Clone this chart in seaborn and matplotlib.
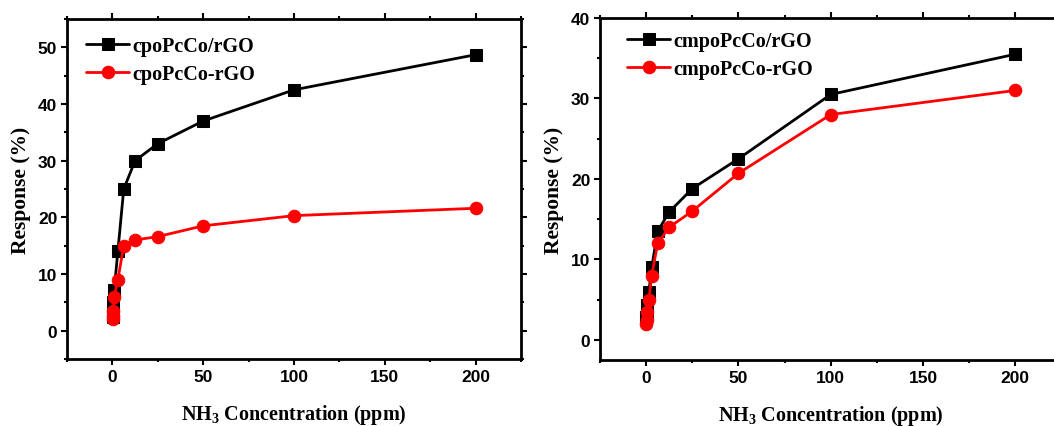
import matplotlib
matplotlib.use("Agg")
import matplotlib.pyplot as plt
import seaborn as sns
import numpy as np
from matplotlib.ticker import MultipleLocator

# ---- data ----
conc = [0.1, 0.25, 0.5, 1, 3, 6.25, 12.5, 25, 50, 100, 200]
conc_r = [0.1, 0.25, 0.5, 1.5, 3, 6.25, 12.5, 25, 50, 100, 200]

left_black_label = "cpoPcCo/rGO"
left_red_label = "cpoPcCo-rGO"
left_black = [2.5, 3.5, 5.0, 7.2, 14.0, 25.0, 30.0, 33.0, 37.0, 42.5, 48.7]
left_red_x = [0.1, 0.25, 0.5, 1.0, 3, 6.25, 12.5, 25, 50, 100, 200]
left_red_y = [2.0, 2.6, 3.5, 6.0, 9.0, 15.0, 16.0, 16.6, 18.5, 20.3, 21.6]

right_black_label = "cmpoPcCo/rGO"
right_red_label = "cmpoPcCo-rGO"
right_black = [2.8, 3.5, 4.3, 6.0, 9.0, 13.5, 15.9, 18.8, 22.5, 30.5, 35.5]
right_red = [2.0, 2.5, 3.5, 5.0, 8.0, 12.0, 14.0, 16.0, 20.7, 28.0, 31.0]

x_ticks = [0, 50, 100, 150, 200]

# ---- style ----
sns.set_theme(style="white")
plt.rcParams["font.family"] = ["Liberation Sans", "DejaVu Sans"]
plt.rcParams["mathtext.fontset"] = "custom"
plt.rcParams["mathtext.rm"] = "Liberation Serif:bold"
plt.rcParams["mathtext.default"] = "rm"
plt.rcParams["text.color"] = "black"
plt.rcParams["axes.labelcolor"] = "black"
plt.rcParams["xtick.color"] = "black"
plt.rcParams["ytick.color"] = "black"

fig = plt.figure(figsize=(10.54, 4.27), dpi=100)
ax1 = fig.add_axes([67/1054, 67/427, 454/1054, 340/427])
ax2 = fig.add_axes([600/1054, 66/427, 461.5/1054, 342/427])

serif_bold = dict(family="Liberation Serif", weight="bold")


def draw(ax, xb, yb, xr, yr, lb, lr, ylim, ymajor, yminor, leg_anchor, ylabpad):
    sns.lineplot(x=xb, y=yb, ax=ax, color="black", marker="s", markersize=8,
                 markeredgecolor="black", linewidth=2, label=lb, sort=False)
    sns.lineplot(x=xr, y=yr, ax=ax, color="red", marker="o", markersize=9,
                 markeredgecolor="red", linewidth=2, label=lr, sort=False)
    ax.set_xlim(-25, 225)
    ax.set_ylim(*ylim)
    ax.set_xticks(x_ticks)
    ax.xaxis.set_minor_locator(MultipleLocator(25))
    ax.yaxis.set_major_locator(MultipleLocator(ymajor))
    ax.yaxis.set_minor_locator(MultipleLocator(yminor))
    ax.tick_params(which="both", width=1.5, colors="black")
    ax.tick_params(axis="x", which="both", top=True, bottom=False, direction="in")
    ax.tick_params(axis="x", which="both", bottom=True, direction="out")
    ax.tick_params(axis="y", which="both", right=True, direction="in")
    ax.tick_params(axis="y", which="both", left=True, direction="out")
    ax.tick_params(which="major", length=4, labelsize=12.5, pad=3)
    ax.tick_params(which="minor", length=2.5)
    for lab in ax.get_xticklabels() + ax.get_yticklabels():
        lab.set_fontweight("bold")
    for sp in ax.spines.values():
        sp.set_linewidth(2)
        sp.set_color("black")
    ax.set_xlabel("NH$_3$ Concentration (ppm)", fontsize=14.5, labelpad=13,
                  color="black", **serif_bold)
    ax.set_ylabel("Response (%)", fontsize=15.5, labelpad=ylabpad,
                  color="black", **serif_bold)
    ax.legend(loc="upper left", frameon=False, prop=dict(size=14.5, **serif_bold),
              handlelength=2.1, handletextpad=0.2, labelspacing=0.4,
              bbox_to_anchor=leg_anchor, borderaxespad=0, labelcolor="black")
    ax.grid(False)


draw(ax1, conc, left_black, left_red_x, left_red_y, left_black_label, left_red_label,
     (-5, 55), 10, 5, (0.025, 0.975), 5)
draw(ax2, conc_r, right_black, conc_r, right_red, right_black_label, right_red_label,
     (-2.5, 40), 10, 5, (0.042, 0.985), 5)

fig.savefig("out.png", dpi=100)
